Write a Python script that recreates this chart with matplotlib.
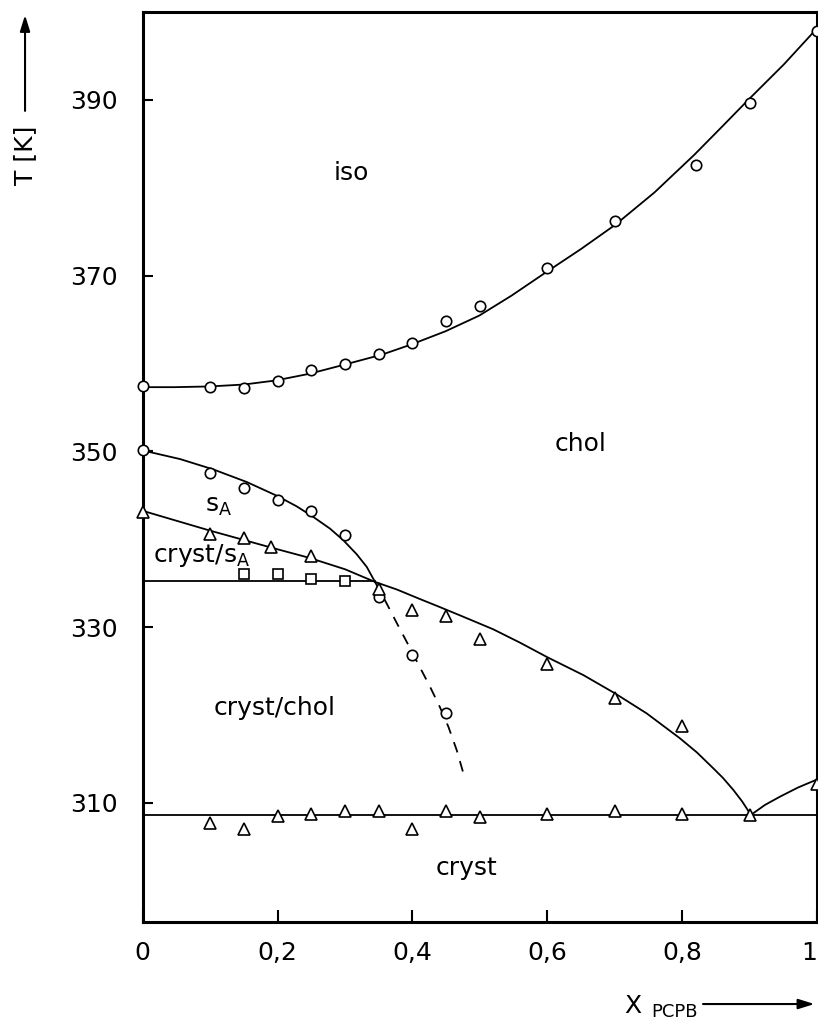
import matplotlib
matplotlib.use("Agg")
from matplotlib import pyplot as plt
from matplotlib.patches import FancyArrowPatch

# measured points
iso_x = [0.0, 0.1, 0.15, 0.2, 0.25, 0.3, 0.35, 0.4, 0.45, 0.5, 0.6, 0.7, 0.82, 0.9, 1.0]
iso_T = [357.4, 357.3, 357.2, 358.0, 359.3, 360.0, 361.1, 362.3, 364.8, 366.6, 370.9, 376.2, 382.6, 389.7, 397.8]

sa_x = [0.0, 0.1, 0.15, 0.2, 0.25, 0.3, 0.35, 0.4, 0.45]
sa_T = [350.2, 347.6, 345.8, 344.5, 343.2, 340.5, 333.4, 326.8, 320.2]

melt_x = [0.0, 0.1, 0.15, 0.19, 0.25, 0.35, 0.4, 0.45, 0.5, 0.6, 0.7, 0.8, 0.9, 1.0]
melt_T = [343.1, 340.6, 340.1, 339.1, 338.1, 334.4, 332.0, 331.25, 328.7, 325.8, 321.9, 318.7, 308.6, 312.2]

sol_x = [0.1, 0.15, 0.2, 0.25, 0.3, 0.35, 0.4, 0.45, 0.5, 0.6, 0.7, 0.8]
sol_T = [307.7, 307.05, 308.55, 308.75, 309.1, 309.05, 307.0, 309.1, 308.35, 308.8, 309.1, 308.8]

sq_x = [0.15, 0.2, 0.25, 0.3]
sq_T = [336.0, 336.0, 335.5, 335.3]

# drawn phase boundaries
iso_line_x = [0.0, 0.047, 0.099, 0.15, 0.197, 0.247, 0.298, 0.355, 0.398, 0.449, 0.499,
              0.547, 0.598, 0.65, 0.701, 0.759, 0.818, 0.858, 0.898, 0.951, 1.0]
iso_line_T = [357.31, 357.31, 357.39, 357.61, 358.07, 358.83, 359.85, 361.02, 362.16, 363.67, 365.45,
              367.73, 370.38, 373.03, 375.8, 379.47, 383.75, 386.86, 390.0, 394.05, 398.14]

sa_line_x = [0.0, 0.0553, 0.1047, 0.1542, 0.1987, 0.2283, 0.253, 0.2778, 0.2975, 0.3173, 0.3322, 0.3445]
sa_line_T = [350.11, 349.13, 347.95, 346.52, 344.96, 343.75, 342.54, 341.21, 339.89, 338.3, 336.86, 335.15]

sa_dash_x = [0.3445, 0.3618, 0.3766, 0.3915, 0.4063, 0.4261, 0.4409, 0.4533, 0.4656, 0.477]
sa_dash_T = [335.15, 332.69, 330.49, 328.33, 326.14, 323.22, 320.87, 318.67, 316.02, 312.99]

melt_line_x = [0.0, 0.0983, 0.1918, 0.2466, 0.3, 0.3445, 0.3771, 0.4112, 0.4409, 0.4706, 0.5195,
               0.5595, 0.6006, 0.6534, 0.7004, 0.7474, 0.7968, 0.822, 0.8462, 0.8606, 0.8759,
               0.8888, 0.902]
melt_line_T = [343.24, 341.02, 339.03, 337.9, 336.59, 335.15, 334.28, 333.2, 332.28, 331.34, 329.77,
               328.24, 326.56, 324.55, 322.47, 320.19, 317.35, 315.74, 313.94, 312.84, 311.48,
               310.19, 308.64]

right_line_x = [0.902, 0.9229, 0.9452, 0.9719, 1.0]
right_line_T = [308.64, 309.78, 310.72, 311.76, 312.67]

trans_x = [0.0, 0.3445]
trans_T = [335.2, 335.2]

eut_x = [0.0, 1.0]
eut_T = [308.64, 308.64]

xticks = [0, 0.2, 0.4, 0.6, 0.8, 1.0]
xticklabels = ["0", "0,2", "0,4", "0,6", "0,8", "1"]
yticks = [310, 330, 350, 370, 390]

plt.rcParams["font.family"] = ["DejaVu Sans"]
fig = plt.figure(figsize=(8.18, 10.24), dpi=100)
ax = fig.add_axes([0.1745, 0.1, 0.8243, 0.8883])

lw = 1.3
for xs, ts in [(iso_line_x, iso_line_T), (sa_line_x, sa_line_T), (melt_line_x, melt_line_T),
               (right_line_x, right_line_T), (trans_x, trans_T), (eut_x, eut_T)]:
    ax.plot(xs, ts, color="black", lw=lw, zorder=2, solid_joinstyle="round")
ax.plot(sa_dash_x, sa_dash_T, color="black", lw=lw, ls=(0, (6, 5)), zorder=2)

mk = dict(mfc="white", mec="black", mew=1.2, ls="none", zorder=3, clip_on=False)
ax.plot(iso_x, iso_T, marker="o", ms=7.5, **mk)
ax.plot(sa_x, sa_T, marker="o", ms=7.5, **mk)
ax.plot(melt_x, melt_T, marker="^", ms=9, **mk)
ax.plot(sol_x, sol_T, marker="^", ms=9, **mk)
ax.plot(sq_x, sq_T, marker="s", ms=7, **mk)

fs = 18
ax.text(0.31, 381.7, "iso", fontsize=fs, ha="center", va="center")
ax.text(0.65, 350.9, "chol", fontsize=fs, ha="center", va="center")
ax.text(0.112, 343.8, r"s$_\mathregular{A}$", fontsize=fs, ha="center", va="center")
ax.text(0.015, 338.1, r"cryst/s$_\mathregular{A}$", fontsize=fs, ha="left", va="center")
ax.text(0.195, 320.8, "cryst/chol", fontsize=fs, ha="center", va="center")
ax.text(0.48, 302.6, "cryst", fontsize=fs, ha="center", va="center")

ax.set_xlim(0, 1)
ax.set_ylim(296.5, 400)
ax.set_xticks(xticks)
ax.set_xticklabels(xticklabels)
ax.get_xticklabels()[-1].set_horizontalalignment("right")
ax.set_yticks(yticks)
ax.tick_params(axis="both", direction="in", labelsize=fs, width=1.5)
ax.tick_params(axis="x", length=9, pad=14)
ax.tick_params(axis="y", length=7, pad=18)
for s in ax.spines.values():
    s.set_linewidth(2.2)

# axis labels with arrows
fig.text(0.0306, 0.8486, "T [K]", rotation=90, fontsize=fs, ha="center", va="center")
fig.add_artist(FancyArrowPatch(
    (0.0306, 0.889), (0.0306, 0.988), transform=fig.transFigure,
    arrowstyle="-|>,head_length=0.8,head_width=0.25", mutation_scale=12, lw=1.5, color="black"))
fig.text(0.774, 0.0176, "X", fontsize=fs, ha="center", va="center")
fig.text(0.825, 0.0117, "PCPB", fontsize=13, ha="center", va="center")
fig.add_artist(FancyArrowPatch(
    (0.856, 0.0195), (0.999, 0.0195), transform=fig.transFigure,
    arrowstyle="-|>,head_length=0.8,head_width=0.25", mutation_scale=12, lw=1.5, color="black"))

fig.savefig("out.png", dpi=100)
